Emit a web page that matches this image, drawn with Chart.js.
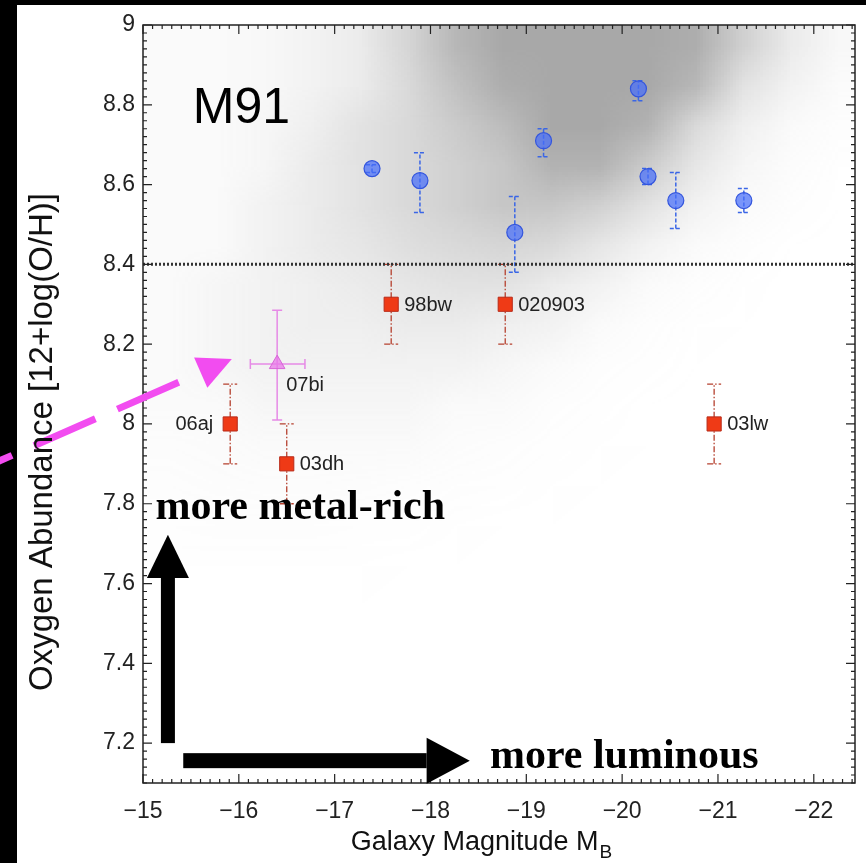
<!DOCTYPE html>
<html><head><meta charset="utf-8">
<script src="https://cdn.jsdelivr.net/npm/chart.js@4.4.1/dist/chart.umd.min.js"></script>
<style>html,body{margin:0;padding:0;background:#fff;overflow:hidden}#wrap{width:866px;height:863px}</style>
</head><body><div id="wrap"><canvas id="c" width="866" height="863"></canvas></div>
<script>
// ---- axes ----
const xTicks = [-15, -16, -17, -18, -19, -20, -21, -22];
const xTickLabels = ['\u221215', '\u221216', '\u221217', '\u221218', '\u221219', '\u221220', '\u221221', '\u221222'];
const yTicks = [7.2, 7.4, 7.6, 7.8, 8, 8.2, 8.4, 8.6, 8.8, 9];
const yTickLabels = ['7.2', '7.4', '7.6', '7.8', '8', '8.2', '8.4', '8.6', '8.8', '9'];
const xRange = [-22.43, -15];
const yRange = [7.1, 9.0];

// ---- host galaxies (blue circles) ----
const hostM = [-17.39, -17.89, -18.88, -19.18, -20.17, -20.27, -20.56, -21.27];
const hostO = [8.64, 8.61, 8.48, 8.71, 8.84, 8.62, 8.56, 8.56];
const hostOlo = [8.63, 8.53, 8.38, 8.67, 8.81, 8.60, 8.49, 8.53];
const hostOhi = [8.65, 8.68, 8.57, 8.74, 8.86, 8.64, 8.63, 8.59];

// ---- GRB hosts (red squares) ----
const grbNames = ['06aj', '03dh', '98bw', '020903', '03lw'];
const grbM = [-15.91, -16.50, -17.59, -18.78, -20.96];
const grbO = [8.0, 7.9, 8.3, 8.3, 8.0];
const grbOlo = [7.9, 7.8, 8.2, 8.2, 7.9];
const grbOhi = [8.1, 8.0, 8.4, 8.4, 8.1];

// ---- SN 07bi (magenta triangle) ----
const snNames = ['07bi'];
const snM = [-16.40];
const snO = [8.15];
const snMlo = [-16.12];
const snMhi = [-16.69];
const snOlo = [8.01];
const snOhi = [8.285];

// ---- metallicity cut ----
const cutO = [8.4];

const cloudM = [-15.25, -15.75, -16.25, -16.75, -17.25, -17.75, -18.25, -18.75, -19.25, -19.75, -20.25, -20.75, -21.25, -21.75, -22.25];
const cloudO = [8.95, 8.85, 8.75, 8.65, 8.55, 8.45, 8.35, 8.25, 8.15, 8.05, 7.95, 7.85, 7.75, 7.65, 7.55, 7.45];
const cloudD = [
  [1, 1, 1.2, 2, 3, 5.5, 8.5, 10, 10, 10, 10, 9.5, 6, 3, 1.2],
  [1, 1, 1.2, 2, 3, 5, 7.5, 9.5, 10, 10, 10, 8.5, 4, 2, 0.8],
  [1, 1, 1.5, 2.5, 4, 5, 6.5, 8, 10, 10, 9, 5, 2.5, 1, 0.4],
  [1, 1, 1.5, 3, 4, 5, 6, 7, 9, 9, 6.5, 3.5, 1.5, 0.6, 0.2],
  [1, 1, 2, 3, 4, 5, 6, 7, 7, 6, 4, 2, 1, 0.4, 0.1],
  [1, 1, 2, 3, 3.5, 4.5, 5, 5.5, 5, 3.5, 2, 1, 0.4, 0.1, 0],
  [1, 1.5, 2, 2.5, 3, 3.5, 4, 4, 3, 2, 1, 0.5, 0.2, 0, 0],
  [1, 1.5, 2, 2.5, 2.5, 3, 3, 2.5, 2, 1, 0.5, 0.2, 0.1, 0, 0],
  [1, 1.5, 2, 2, 2, 2, 2, 1.5, 1, 0.5, 0.3, 0.1, 0, 0, 0],
  [1, 1, 1.5, 1.5, 1.5, 1.5, 1, 1, 0.5, 0.3, 0.1, 0, 0, 0, 0],
  [0.7, 0.8, 1, 1, 1, 1, 0.7, 0.5, 0.3, 0.2, 0.1, 0, 0, 0, 0],
  [0.5, 0.6, 0.7, 0.7, 0.6, 0.5, 0.4, 0.3, 0.2, 0.1, 0, 0, 0, 0, 0],
  [0.3, 0.4, 0.4, 0.4, 0.3, 0.3, 0.2, 0.1, 0.1, 0, 0, 0, 0, 0, 0],
  [0.2, 0.2, 0.2, 0.2, 0.2, 0.1, 0.1, 0, 0, 0, 0, 0, 0, 0, 0],
  [0.1, 0.1, 0.1, 0.1, 0.1, 0, 0, 0, 0, 0, 0, 0, 0, 0, 0],
  [0, 0, 0, 0, 0, 0, 0, 0, 0, 0, 0, 0, 0, 0, 0]
];

const SANS = '"Liberation Sans", Arial, Helvetica, sans-serif';
const SERIF = '"Liberation Serif", "Times New Roman", serif';

function pts(xs, ys) { return xs.map((x, i) => ({x: x, y: ys[i]})); }

const deco = {
  id: 'deco',
  beforeDraw(chart) {
    const c = chart.ctx;
    c.save();
    c.fillStyle = '#fff'; c.fillRect(0, 0, chart.width, chart.height);
    c.fillStyle = '#000';
    c.fillRect(0, 0, 17, chart.height);
    c.fillRect(0, 0, chart.width, 5);
    c.restore();
  },
  beforeDatasetsDraw(chart) {
    const c = chart.ctx, xs = chart.scales.x, ys = chart.scales.y, a = chart.chartArea;
    // gray density cloud
    const nx = cloudM.length, ny = cloudO.length;
    const off = document.createElement('canvas'); off.width = nx; off.height = ny;
    const oc = off.getContext('2d'); const img = oc.createImageData(nx, ny);
    for (let j = 0; j < ny; j++) for (let i = 0; i < nx; i++) {
      const k = (j * nx + i) * 4, d = cloudD[j][i];
      img.data[k] = img.data[k + 1] = img.data[k + 2] = 168;
      img.data[k + 3] = Math.round(255 * Math.pow(Math.min(1, d / 10), 1.2));
    }
    oc.putImageData(img, 0, 0);
    const dM = cloudM[1] - cloudM[0], dO = cloudO[0] - cloudO[1];
    const L = xs.getPixelForValue(cloudM[0] - dM / 2), R = xs.getPixelForValue(cloudM[nx - 1] + dM / 2);
    const T = ys.getPixelForValue(cloudO[0] + dO / 2), B = ys.getPixelForValue(cloudO[ny - 1] - dO / 2);
    c.save();
    c.beginPath(); c.rect(a.left, a.top, a.right - a.left, a.bottom - a.top); c.clip();
    c.imageSmoothingEnabled = true; c.imageSmoothingQuality = 'low';
    c.drawImage(off, L, T, R - L, B - T);
    c.restore();

    // error bars
    function vbar(x, lo, hi, cap, color, dash, w) {
      const px = xs.getPixelForValue(x), p1 = ys.getPixelForValue(lo), p2 = ys.getPixelForValue(hi);
      c.save(); c.strokeStyle = color; c.lineWidth = w; c.setLineDash(dash);
      c.beginPath(); c.moveTo(px, p1); c.lineTo(px, p2);
      c.moveTo(px - cap, p1); c.lineTo(px + cap, p1);
      c.moveTo(px - cap, p2); c.lineTo(px + cap, p2); c.stroke(); c.restore();
    }
    function hbar(y, lo, hi, cap, color, dash, w) {
      const py = ys.getPixelForValue(y), p1 = xs.getPixelForValue(lo), p2 = xs.getPixelForValue(hi);
      c.save(); c.strokeStyle = color; c.lineWidth = w; c.setLineDash(dash);
      c.beginPath(); c.moveTo(p1, py); c.lineTo(p2, py);
      c.moveTo(p1, py - cap); c.lineTo(p1, py + cap);
      c.moveTo(p2, py - cap); c.lineTo(p2, py + cap); c.stroke(); c.restore();
    }
    hostM.forEach((m, i) => vbar(m, hostOlo[i], hostOhi[i], 6, '#3a66e6', [4, 2], 1.5));
    grbM.forEach((m, i) => vbar(m, grbOlo[i], grbOhi[i], 7, '#b5402e', [6, 2, 1.5, 2], 1.3));
    snM.forEach((m, i) => {
      vbar(m, snOlo[i], snOhi[i], 5, '#e68ae6', [], 1.5);
      hbar(snO[i], snMlo[i], snMhi[i], 5, '#e68ae6', [], 1.5);
    });
  },
  afterDatasetsDraw(chart) {
    const c = chart.ctx, xs = chart.scales.x, ys = chart.scales.y, a = chart.chartArea;
    const X = v => xs.getPixelForValue(v), Y = v => ys.getPixelForValue(v);
    c.save();
    // frame
    c.strokeStyle = '#222'; c.lineWidth = 1.5;
    c.strokeRect(a.left, a.top, a.right - a.left, a.bottom - a.top);
    // minor/major ticks pointing inward
    c.lineWidth = 1.2;
    c.beginPath();
    for (let k = 150; k <= 224; k++) {
      const v = -k / 10; const px = X(v);
      if (px < a.left - 0.5 || px > a.right + 0.5) continue;
      const len = (k % 10 === 0) ? 9 : 4;
      c.moveTo(px, a.bottom); c.lineTo(px, a.bottom - len);
      c.moveTo(px, a.top); c.lineTo(px, a.top + len);
    }
    for (let k = 355; k <= 450; k++) {
      const v = k / 50; const py = Y(v);
      if (py < a.top - 0.5 || py > a.bottom + 0.5) continue;
      const len = (k % 10 === 0) ? 9 : 4;
      c.moveTo(a.left, py); c.lineTo(a.left + len, py);
      c.moveTo(a.right, py); c.lineTo(a.right - len, py);
    }
    c.stroke();

    // point labels
    c.fillStyle = '#222'; c.font = '20px ' + SANS; c.textBaseline = 'middle';
    grbNames.forEach((n, i) => {
      if (i === 0) { c.textAlign = 'right'; c.fillText(n, X(grbM[i]) - 17, Y(grbO[i]) + 1); }
      else { c.textAlign = 'left'; c.fillText(n, X(grbM[i]) + 13, Y(grbO[i]) + 1); }
    });
    c.textAlign = 'left';
    snNames.forEach((n, i) => c.fillText(n, X(snM[i]) + 9, Y(snO[i]) + 21));

    // M91
    c.fillStyle = '#000'; c.font = '50px ' + SANS; c.textBaseline = 'alphabetic';
    c.fillText('M91', X(-15.52), Y(8.755));

    // black arrows
    c.fillStyle = '#000';
    const vx = X(-15.26);
    c.fillRect(vx - 7, Y(7.614), 14, Y(7.2) - Y(7.614));
    c.beginPath(); c.moveTo(vx - 21, Y(7.614)); c.lineTo(vx + 21, Y(7.614)); c.lineTo(vx, Y(7.722)); c.closePath(); c.fill();
    const hy = Y(7.156);
    c.fillRect(X(-15.42), hy - 7.5, X(-17.96) - X(-15.42), 15);
    c.beginPath(); c.moveTo(X(-17.96), hy - 23); c.lineTo(X(-17.96), hy + 23); c.lineTo(X(-18.41), hy); c.closePath(); c.fill();

    // texts
    c.font = 'bold 42px ' + SERIF;
    c.fillText('more metal-rich', X(-15.13), Y(7.762));
    c.fillText('more luminous', X(-18.62), Y(7.137));

    // magenta dashed arrow
    const sx = X(-13.523), sy = Y(7.9095);
    const tx = X(-15.927), ty = Y(8.163);
    const dx = tx - sx, dy = ty - sy, dl = Math.hypot(dx, dy), ux = dx / dl, uy = dy / dl;
    const hl = 34, hw = 16.5;
    const bx = tx - ux * hl, by = ty - uy * hl;
    c.strokeStyle = '#f24cf0'; c.lineWidth = 7; c.setLineDash([67, 24]); c.lineDashOffset = 67;
    c.beginPath(); c.moveTo(bx, by); c.lineTo(sx - ux * 20, sy - uy * 20); c.stroke();
    c.setLineDash([]);
    c.fillStyle = '#f24cf0';
    c.beginPath(); c.moveTo(tx, ty); c.lineTo(bx - uy * hw, by + ux * hw); c.lineTo(bx + uy * hw, by - ux * hw); c.closePath(); c.fill();

    // axis titles
    c.fillStyle = '#111';
    c.font = '27px ' + SANS;
    const t1 = 'Galaxy Magnitude M';
    const w1 = c.measureText(t1).width;
    c.font = '19px ' + SANS;
    const w2 = c.measureText('B').width;
    const x0 = 481 - (w1 + w2) / 2;
    c.font = '27px ' + SANS; c.textAlign = 'left'; c.textBaseline = 'alphabetic';
    c.fillText(t1, x0, 850);
    c.font = '19px ' + SANS; c.fillText('B', x0 + w1 + 1, 858);
    c.save();
    c.translate(43, 442); c.rotate(-Math.PI / 2);
    c.font = '33px ' + SANS; c.textAlign = 'center'; c.textBaseline = 'middle';
    c.fillText('Oxygen Abundance [12+log(O/H)]', 0, 0);
    c.restore();
    c.restore();
  }
};

new Chart(document.getElementById('c'), {
  type: 'scatter',
  data: {
    datasets: [
      {label: 'Host galaxies', data: pts(hostM, hostO), pointStyle: 'circle', pointRadius: 8,
       backgroundColor: 'rgba(70,110,250,0.72)', borderColor: '#3355dd', borderWidth: 1.2, order: 1},
      {label: 'GRB/SN hosts', data: pts(grbM, grbO), pointStyle: 'rect', pointRadius: 10,
       backgroundColor: '#ef3a16', borderColor: '#b82a18', borderWidth: 1, order: 1},
      {label: 'SN 07bi', data: pts(snM, snO), pointStyle: 'triangle', pointRadius: 9,
       backgroundColor: 'rgba(232,120,232,0.75)', borderColor: '#d865d8', borderWidth: 1, order: 1},
      {label: 'cut', type: 'line', data: [{x: xRange[1], y: cutO[0]}, {x: xRange[0], y: cutO[0]}],
       borderColor: '#333', borderWidth: 3, borderDash: [2, 2], pointRadius: 0, order: 5}
    ]
  },
  options: {
    responsive: false, animation: false, devicePixelRatio: 1,
    layout: {padding: {left: 0, right: 1, top: 25, bottom: 0}},
    plugins: {legend: {display: false}, tooltip: {enabled: false}},
    scales: {
      x: {type: 'linear', reverse: true, min: xRange[0], max: xRange[1],
          grid: {display: false, drawTicks: false}, border: {display: false},
          afterBuildTicks: s => { s.ticks = xTicks.map(v => ({value: v})); },
          afterFit: s => { s.height = 80; s.paddingLeft = 0; s.paddingRight = 0; },
          ticks: {padding: 15, color: '#222', font: {family: SANS, size: 23},
                  callback: v => { const i = xTicks.indexOf(v); return i >= 0 ? xTickLabels[i] : ''; }}},
      y: {type: 'linear', min: yRange[0], max: yRange[1],
          grid: {display: false, drawTicks: false}, border: {display: false},
          afterBuildTicks: s => { s.ticks = yTicks.map(v => ({value: v})); },
          afterFit: s => { s.width = 143; s.paddingTop = 0; s.paddingBottom = 0; },
          ticks: {padding: 8, color: '#222', font: {family: SANS, size: 23},
                  callback: v => { const i = yTicks.findIndex(t => Math.abs(t - v) < 1e-9); return i >= 0 ? yTickLabels[i] : ''; }}}
    }
  },
  plugins: [deco]
});
</script>
</body></html>
